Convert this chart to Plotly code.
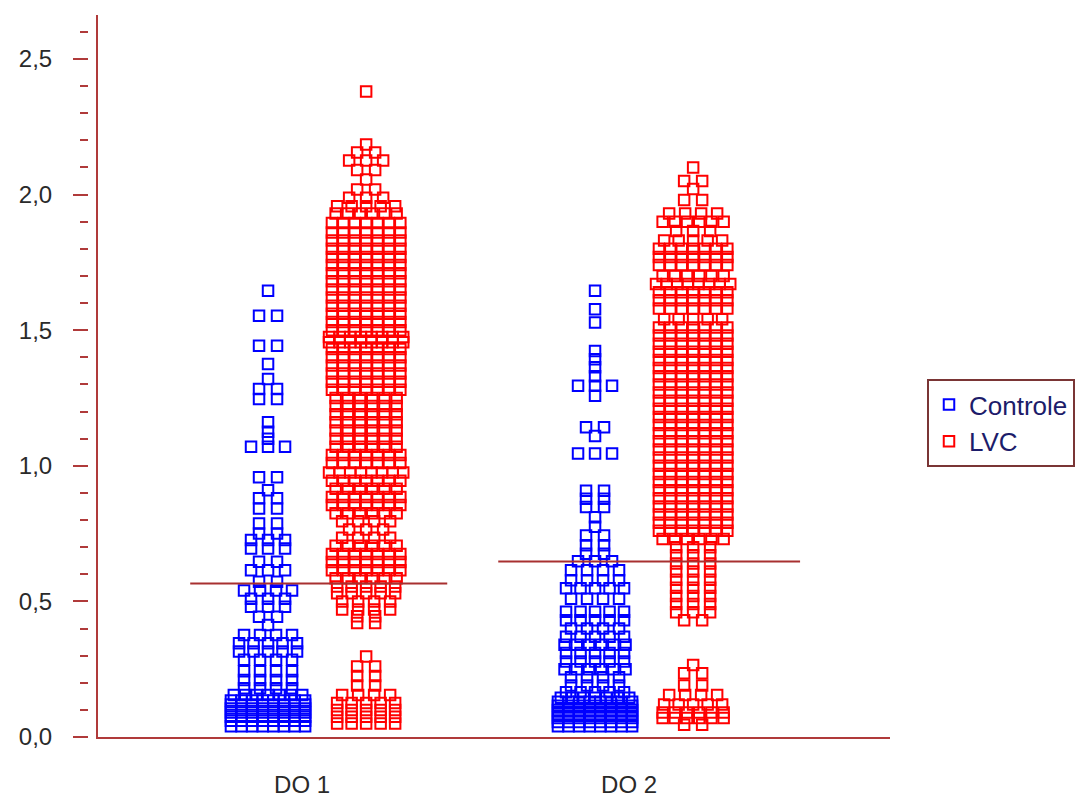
import plotly.graph_objects as go

# ---------------- data ----------------
groups = ["DO 1", "DO 2"]
series = ["Controle", "LVC"]

# each list: value levels and how many dots sit at that level
ctrl_do1_vals = [1.645, 1.553, 1.442, 1.375, 1.32, 1.283, 1.246,
                 1.16, 1.125, 1.10, 1.07,
                 0.958, 0.91, 0.88, 0.842, 0.787, 0.75, 0.726, 0.695, 0.646, 0.615,
                 0.572, 0.54, 0.51, 0.48, 0.443, 0.413,
                 0.376, 0.346, 0.315, 0.285, 0.242, 0.21, 0.18,
                 0.155, 0.135, 0.12, 0.105, 0.09, 0.075, 0.06, 0.04]
ctrl_do1_cnts = [1, 2, 2, 1, 1, 2, 2,
                 1, 1, 1, 3,
                 2, 1, 2, 2, 2, 2, 3, 3, 2, 3,
                 2, 4, 3, 3, 2, 1,
                 4, 5, 5, 4, 4, 4, 4,
                 7, 8, 8, 8, 8, 8, 8, 8]

ctrl_do2_vals = [1.645, 1.577, 1.528, 1.423, 1.393, 1.363, 1.33, 1.295, 1.258,
                 1.142, 1.11, 1.045,
                 0.908, 0.878, 0.848, 0.81, 0.775, 0.743, 0.707, 0.676, 0.648, 0.615,
                 0.578, 0.548, 0.51,
                 0.462, 0.43, 0.40, 0.37, 0.34, 0.31, 0.278, 0.25, 0.22, 0.19, 0.165, 0.145,
                 0.13, 0.115, 0.10, 0.085, 0.07, 0.055, 0.04]
ctrl_do2_cnts = [1, 1, 1, 1, 1, 1, 1, 3, 1,
                 2, 1, 3,
                 2, 2, 2, 1, 1, 2, 2, 2, 3, 4, 4, 5, 4,
                 5, 5, 4, 5, 6, 5, 5, 6, 4, 4, 5, 7,
                 8, 8, 8, 8, 8, 8, 8]

lvc_do1_vals = [2.38, 2.184, 2.155, 2.125, 2.09, 2.055, 2.018, 1.988, 1.957, 1.93,
                1.895, 1.86, 1.83, 1.80, 1.77, 1.74, 1.71, 1.68, 1.65, 1.62,
                1.59, 1.56, 1.53, 1.50, 1.475, 1.455, 1.43, 1.40, 1.37, 1.34,
                1.31, 1.28, 1.25, 1.22, 1.19, 1.16, 1.13, 1.10, 1.07, 1.04,
                1.01, 0.975, 0.945, 0.915, 0.885, 0.855, 0.825, 0.795, 0.765, 0.735,
                0.705, 0.675, 0.645, 0.615, 0.585, 0.555, 0.53, 0.50, 0.47, 0.445, 0.42,
                0.297, 0.26, 0.225, 0.19, 0.155, 0.125, 0.10, 0.075, 0.05]
lvc_do1_cnts = [1, 1, 2, 3, 2, 1, 2, 3, 5, 6,
                7, 7, 7, 7, 7, 7, 7, 7, 7, 7,
                7, 7, 7, 7, 8, 8, 7, 7, 7, 7,
                7, 7, 6, 6, 6, 6, 6, 6, 6, 7,
                7, 8, 7, 6, 7, 7, 6, 4, 3, 4,
                6, 7, 7, 7, 6, 5, 5, 4, 4, 2, 2,
                1, 2, 2, 2, 4, 5, 5, 5, 5]

lvc_do2_vals = [2.10, 2.05, 2.02, 1.98, 1.93, 1.90, 1.865, 1.83, 1.80, 1.77,
                1.74, 1.70, 1.67, 1.64, 1.61, 1.58, 1.54, 1.51, 1.48, 1.45,
                1.42, 1.39, 1.36, 1.33, 1.30, 1.27, 1.24, 1.21, 1.18, 1.15,
                1.12, 1.09, 1.06, 1.03, 1.00, 0.97, 0.94, 0.91, 0.88, 0.85,
                0.82, 0.79, 0.76, 0.73, 0.70, 0.67, 0.64, 0.61, 0.58, 0.55,
                0.52, 0.49, 0.46, 0.43,
                0.265, 0.235, 0.19, 0.155, 0.12, 0.09, 0.07, 0.045]
lvc_do2_cnts = [1, 2, 1, 2, 4, 6, 3, 5, 7, 7,
                7, 6, 8, 7, 7, 7, 5, 7, 7, 7,
                7, 7, 7, 7, 7, 7, 7, 7, 7, 7,
                7, 7, 7, 7, 7, 7, 7, 7, 7, 7,
                7, 7, 7, 6, 3, 3, 3, 3, 3, 3,
                3, 3, 3, 2,
                1, 2, 2, 4, 5, 6, 6, 2]

medians = [0.566, 0.647]

y_tick_vals = [0.0, 0.5, 1.0, 1.5, 2.0, 2.5]
y_tick_text = ["0,0", "0,5", "1,0", "1,5", "2,0", "2,5"]

# ---------------- layout helpers ----------------
W, H = 1078, 798
X_LEFT_PX, X_RIGHT_PX = 98, 890
X_RANGE = [0.330, 2.752]
PX_PER_UNIT = (X_RIGHT_PX - X_LEFT_PX) / (X_RANGE[1] - X_RANGE[0])
group_pos = [1.0, 2.0]
series_offset = [-0.15, 0.15]
label_shift = -0.046
median_extent = [(-0.388, 0.398), (-0.446, 0.477)]
SPACING = {1: 0, 2: 18, 3: 17, 4: 16, 5: 14.5, 6: 12.2, 7: 11.4, 8: 10.6}

AXIS_RED = "#B03A3A"
LINE_RED = "#A83030"
FONT = "Arial, Liberation Sans, sans-serif"


def swarm(center, vals, cnts):
    xs, ys = [], []
    for v, n in zip(vals, cnts):
        dx = SPACING[n] / PX_PER_UNIT
        for i in range(n):
            xs.append(center + (i - (n - 1) / 2) * dx)
            ys.append(v)
    return xs, ys


data = {
    "Controle": [(ctrl_do1_vals, ctrl_do1_cnts), (ctrl_do2_vals, ctrl_do2_cnts)],
    "LVC": [(lvc_do1_vals, lvc_do1_cnts), (lvc_do2_vals, lvc_do2_cnts)],
}
colors = {"Controle": "#0000FF", "LVC": "#FF0000"}

fig = go.Figure()
for si, s in enumerate(series):
    xs_all, ys_all = [], []
    for gi, (vals, cnts) in enumerate(data[s]):
        xs, ys = swarm(group_pos[gi] + series_offset[si], vals, cnts)
        xs_all += xs
        ys_all += ys
    fig.add_trace(go.Scatter(
        x=xs_all, y=ys_all, mode="markers", name=s,
        marker=dict(symbol="square-open", size=10.5, color=colors[s],
                    line=dict(width=2, color=colors[s])),
        hoverinfo="skip",
    ))

for gi, m in enumerate(medians):
    a, b = median_extent[gi]
    fig.add_trace(go.Scatter(
        x=[group_pos[gi] + a, group_pos[gi] + b], y=[m, m], mode="lines",
        line=dict(color=LINE_RED, width=2), showlegend=False, hoverinfo="skip",
        yaxis="y2",
    ))

Y_TOP = (739 - 15) / 272.0

fig.update_layout(
    width=W, height=H,
    margin=dict(l=0, r=0, t=15, b=59),
    paper_bgcolor="white", plot_bgcolor="white",
    font=dict(family=FONT, color="#333333"),
    xaxis=dict(
        domain=[X_LEFT_PX / W, X_RIGHT_PX / W], range=X_RANGE,
        showline=True, linecolor=AXIS_RED, linewidth=2,
        showgrid=False, zeroline=False, ticks="",
        tickvals=[g + label_shift for g in group_pos], ticktext=groups,
        tickfont=dict(size=24, color="#2a2a2a", family=FONT),
        ticklabelstandoff=25,
    ),
    yaxis=dict(
        range=[0, Y_TOP], showline=True, linecolor=AXIS_RED, linewidth=2,
        showgrid=False, zeroline=False, ticks="", showticklabels=False,
    ),
    yaxis2=dict(
        overlaying="y", anchor="free", position=88 / W, side="left",
        range=[0, Y_TOP], showline=False, showgrid=False, zeroline=False,
        ticks="outside", ticklen=15, tickwidth=2, tickcolor=AXIS_RED,
        tickvals=y_tick_vals, ticktext=y_tick_text,
        tickfont=dict(size=24, color="#2a2a2a", family=FONT),
        ticklabelstandoff=16,
        minor=dict(dtick=0.1, ticks="outside", ticklen=8, tickwidth=2,
                   tickcolor=AXIS_RED, showgrid=False),
        automargin=False,
    ),
    legend=dict(
        x=927 / W, y=(739 - 380) / 724, xanchor="left", yanchor="top",
        bordercolor="#7A3535", borderwidth=2, bgcolor="white",
        font=dict(size=26, color="#1c1c6a", family=FONT),
        itemclick=False,
    ),
    showlegend=True,
)

fig.write_html("out.html")
